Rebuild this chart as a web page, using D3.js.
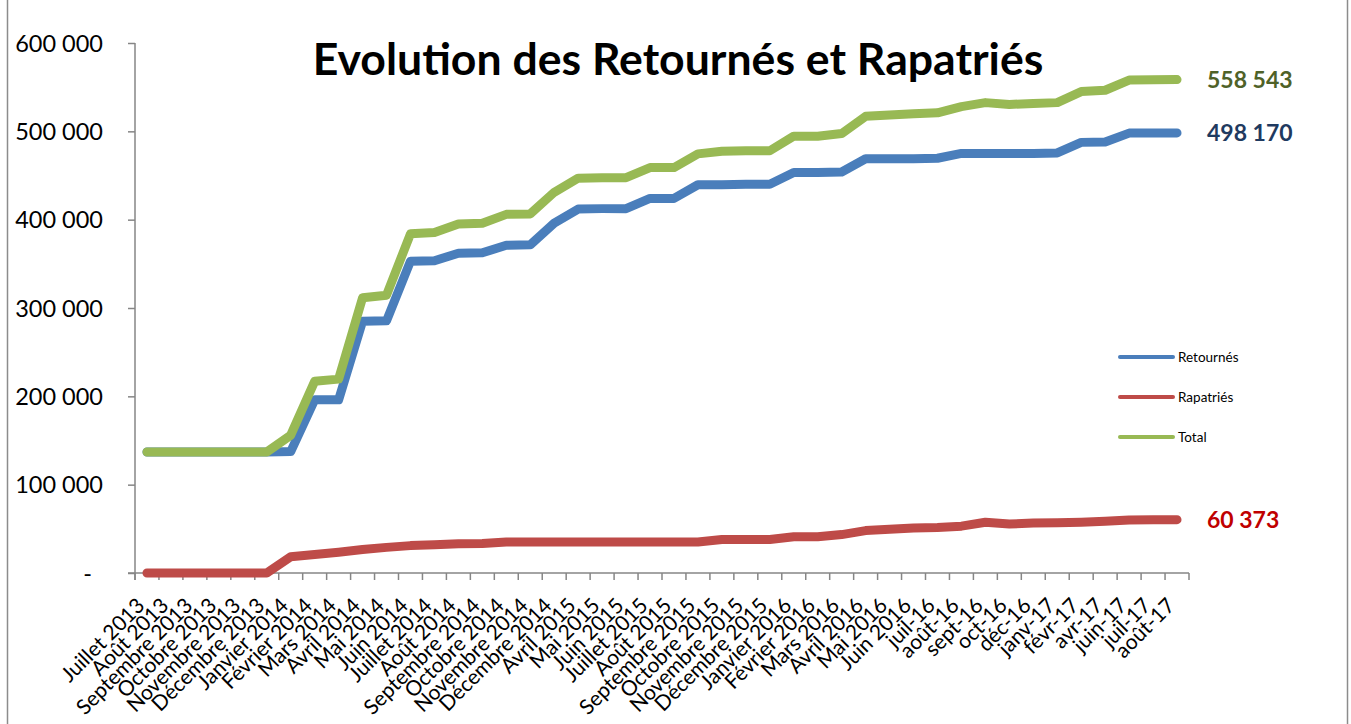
<!DOCTYPE html>
<html>
<head>
<meta charset="utf-8">
<script src="https://cdn.jsdelivr.net/npm/d3@7"></script>
<style>
  body { margin: 0; background: #fff; }
  svg { display: block; font-family: Lato, "Open Sans", sans-serif; }
</style>
</head>
<body>
<svg id="chart"></svg>
<script>
const width = 1351, height = 724;

const months = [
  "Juillet 2013", "Août 2013", "Septembre 2013", "Octobre 2013", "Novembre 2013", "Décembre 2013",
  "Janvier 2014", "Février 2014", "Mars 2014", "Avril 2014", "Mai 2014", "Juin 2014",
  "Juillet 2014", "Août 2014", "Septembre 2014", "Octobre 2014", "Novembre 2014", "Décembre 2014",
  "Avril 2015", "Mai 2015", "Juin 2015", "Juillet 2015", "Août 2015", "Septembre 2015",
  "Octobre 2015", "Novembre 2015", "Décembre 2015", "Janvier 2016", "Février 2016", "Mars 2016",
  "Avril 2016", "Mai 2016", "Juin 2016", "juil-16", "août-16", "sept-16",
  "oct-16", "déc-16", "janv-17", "févr-17", "avr-17", "juin-17", "juil-17", "août-17"
];

const retournes = [
  137000, 137000, 137000, 137000, 137000, 137000,
  137500, 196000, 196000, 285000, 285500, 353000,
  353500, 362000, 362500, 371000, 371500, 396000,
  412000, 412500, 412500, 424000, 424000, 439500,
  439500, 440000, 440000, 453500, 453500, 454000,
  469000, 469000, 469000, 469500, 475000, 475000,
  475000, 475000, 475500, 487500, 488000, 498000, 498100, 498170
];

const rapatries = [
  0, 0, 0, 0, 0, 0,
  18500, 21000, 23500, 26500, 29000, 31000,
  32000, 33000, 33500, 35000, 35000, 35000,
  35000, 35000, 35000, 35000, 35000, 35000,
  38000, 38000, 38000, 41000, 41000, 43500,
  48000, 49500, 51000, 51500, 53000, 57500,
  55500, 56500, 57000, 57500, 58500, 60000, 60300, 60373
];

const total = [
  137000, 137000, 137000, 137000, 137000, 137000,
  156000, 217000, 219500, 311500, 314500, 384000,
  385500, 395000, 396000, 406000, 406500, 431000,
  447000, 447500, 447500, 459000, 459000, 474500,
  477500, 478000, 478000, 494500, 494500, 497500,
  517000, 518500, 520000, 521000, 528000, 532500,
  530500, 531500, 532500, 545000, 546500, 558000, 558400, 558543
];

const yTicks = [0, 100000, 200000, 300000, 400000, 500000, 600000];

const series = [
  { name: "Retournés", values: retournes, color: "#4a7ebb", label: "498 170", labelColor: "#1f3a60" },
  { name: "Rapatriés", values: rapatries, color: "#be4b48", label: "60 373", labelColor: "#c00000" },
  { name: "Total", values: total, color: "#98b954", label: "558 543", labelColor: "#4f6228" }
];

const margin = { top: 43, right: 162, bottom: 151, left: 135 };

const svg = d3.select("#chart")
  .attr("width", width)
  .attr("height", height);

// outer frame
svg.append("rect")
  .attr("x", 7.5).attr("y", -5)
  .attr("width", 1340).attr("height", height + 10)
  .attr("fill", "none")
  .attr("stroke", "#8c8c8c")
  .attr("stroke-width", 1.5);

const x = d3.scaleBand()
  .domain(months)
  .range([margin.left, width - margin.right])
  .padding(0);

const y = d3.scaleLinear()
  .domain([0, 600000])
  .range([height - margin.bottom, margin.top]);

const fr = d3.formatLocale({ decimal: ",", thousands: " ", grouping: [3], currency: ["", ""] });
const fmt = fr.format(",");

// y axis
const yAxis = svg.append("g")
  .attr("transform", `translate(${margin.left},0)`)
  .call(d3.axisLeft(y).tickValues(yTicks).tickSize(7).tickSizeOuter(0)
    .tickFormat(d => d === 0 ? "-" : fmt(d)));
yAxis.select(".domain").attr("stroke", "#868686").attr("stroke-width", 1.5)
  .attr("d", `M0,${y(600000)}V${y(0) + 7}`);
yAxis.selectAll(".tick line").attr("stroke", "#868686").attr("stroke-width", 1.5);
yAxis.selectAll(".tick text")
  .attr("x", -32)
  .attr("font-size", 23.5)
  .attr("font-family", "Lato, sans-serif")
  .attr("fill", "#000")
  .attr("dy", "0.35em");
yAxis.selectAll(".tick text").filter(d => d === 0).attr("x", -43);

// x axis with ticks on category boundaries
const xAxis = svg.append("g")
  .attr("transform", `translate(0,${y(0)})`);
xAxis.append("line")
  .attr("x1", margin.left - 7).attr("x2", width - margin.right)
  .attr("stroke", "#868686").attr("stroke-width", 1.5);
const bounds = months.map(m => x(m)).concat([x(months[months.length - 1]) + x.bandwidth()]);
xAxis.selectAll(".xt").data(bounds).join("line")
  .attr("class", "xt")
  .attr("x1", d => d).attr("x2", d => d)
  .attr("y1", 0).attr("y2", 7)
  .attr("stroke", "#868686").attr("stroke-width", 1.5);
xAxis.selectAll(".xl").data(months).join("text")
  .attr("class", "xl")
  .attr("text-anchor", "end")
  .attr("font-size", 21)
  .attr("fill", "#000")
  .attr("transform", d => `translate(${x(d) + x.bandwidth() / 2 - 1},${34}) rotate(-45)`)
  .text(d => d);

// lines
const line = d3.line()
  .x((d, i) => x(months[i]) + x.bandwidth() / 2)
  .y(d => y(d));

svg.selectAll(".series").data(series).join("path")
  .attr("class", "series")
  .attr("fill", "none")
  .attr("stroke", d => d.color)
  .attr("stroke-width", 9)
  .attr("stroke-linejoin", "round")
  .attr("stroke-linecap", "round")
  .attr("d", d => line(d.values));

// end value labels
svg.selectAll(".endlabel").data(series).join("text")
  .attr("class", "endlabel")
  .attr("x", width - margin.right + 18)
  .attr("y", d => y(d.values[d.values.length - 1]))
  .attr("dy", "0.35em")
  .attr("font-size", 23)
  .attr("font-weight", "bold")
  .attr("fill", d => d.labelColor)
  .text(d => d.label);

// legend
const legend = svg.append("g").attr("transform", "translate(1120,357)");
const li = legend.selectAll("g").data(series).join("g")
  .attr("transform", (d, i) => `translate(0,${i * 40})`);
li.append("line")
  .attr("x1", 0).attr("x2", 53)
  .attr("stroke", d => d.color)
  .attr("stroke-width", 4)
  .attr("stroke-linecap", "round");
li.append("text")
  .attr("x", 58)
  .attr("dy", "0.35em")
  .attr("font-size", 13.5)
  .attr("fill", "#000")
  .text(d => d.name);

// title, fitted to the reference width
const title = svg.append("text")
  .attr("x", 678)
  .attr("y", 75)
  .attr("text-anchor", "middle")
  .attr("font-weight", "bold")
  .attr("font-size", 40)
  .attr("fill", "#000")
  .text("Evolution des Retournés et Rapatriés");
const tw = title.node().getComputedTextLength();
title.attr("font-size", 40 * 731 / tw);
</script>
</body>
</html>
